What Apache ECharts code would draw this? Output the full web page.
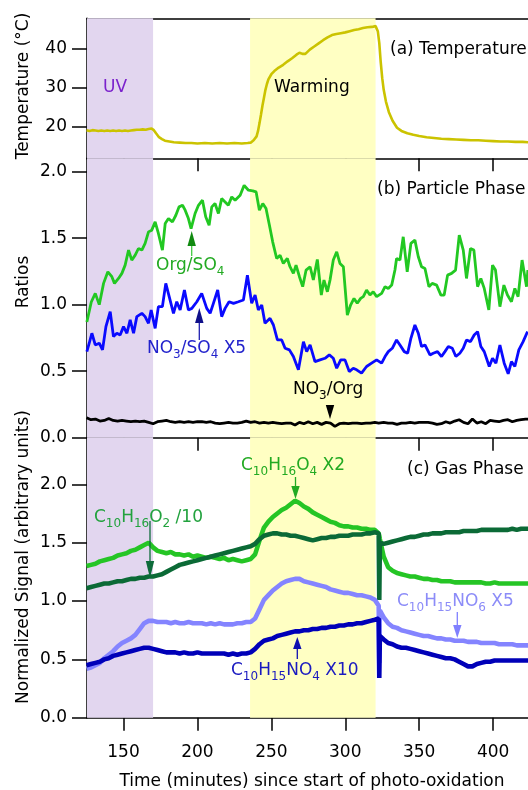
<!DOCTYPE html>
<html><head><meta charset="utf-8">
<script src="https://cdn.jsdelivr.net/npm/echarts@6/dist/echarts.min.js"></script>
<style>html,body{margin:0;padding:0;background:#fff}#c{width:528px;height:790px}</style>
</head><body><div id="c"></div>
<script>
// ---------- data ----------
const timeTicks = [150, 200, 250, 300, 350, 400];
const tempTicks = [20, 30, 40];
const tempMinorTicks = [15, 25, 35, 45];
const ratioTicks = [0, 0.5, 1, 1.5, 2];
const gasTicks = [0, 0.5, 1, 1.5, 2];
const uvPeriod = [125.3, 170];
const warmPeriod = [235.6, 320.5];

const tempTime = [125,127,129,131,133,135,137,139,141,143,145,147,149,151,153,155,157,159,161,163,165,167,169,170.5,172,174,176,178,181,184,188,192,196,200,205,210,215,220,225,230,234,236,238,240,241,242,243,244,245,246,247,248,250,252,255,258,261,264,267,269,271,273,276,279,282,285,288,291,294,297,300,303,306,309,312,315,318,320.5,322,323,324,325,326,327.5,329.5,332,335,338,342,346,350,355,360,365,370,375,380,385,390,395,400,405,410,415,420,424];
const tempVals = [19.2,19.0,19.2,19.1,19.0,19.1,19.0,19.1,19.0,19.1,19.0,19.1,19.0,19.1,19.0,19.1,19.2,19.3,19.3,19.4,19.3,19.5,19.6,19.2,18.4,17.4,16.9,16.5,16.3,16.1,16.0,15.9,15.9,15.8,15.9,15.8,15.9,15.8,15.9,15.8,15.9,16.0,16.6,17.6,19.0,21.0,23.2,25.5,27.5,29.5,31.0,32.2,33.5,34.3,35.2,35.9,36.8,37.6,38.5,39.0,38.7,38.7,39.8,40.6,41.4,42.2,42.9,43.5,43.8,44.0,44.2,44.5,44.8,45.0,45.3,45.5,45.6,45.8,44.5,41.5,36.5,32.5,29.5,26.5,23.8,21.6,19.8,19.0,18.4,18.0,17.7,17.4,17.2,17.0,16.9,16.8,16.7,16.6,16.6,16.5,16.4,16.3,16.3,16.2,16.2,16.1];

const orgTime = [125.2,128.2,130.9,133.6,136.5,139.4,142.1,143.9,146.6,148.9,151.1,153.4,155.6,157.9,160.1,162.4,164.6,166.9,169.1,171.4,173.6,176.3,178.2,180.4,183.1,185.4,187.6,189.9,191.7,193.9,195.7,198.4,200.7,203.4,205.6,207.9,209.7,211.9,214.2,216.4,218.7,220.9,223.2,225.5,228.9,231.6,234.5,237.4,239.7,241.9,244.2,246.4,248.7,250.9,253.6,255.9,258.1,260.8,262.6,264.9,266.7,269,271.2,273.5,276.2,278.4,281.1,283.8,285.6,287.9,289.7,291.9,294.2,296.4,298.7,301.4,303.6,305.9,308.1,310.4,312.2,314.4,316.7,318.9,321.2,322.4,324.6,326.9,329.1,331.4,333.6,334.7,337,339.2,341.9,344.4,347.1,349.4,351.6,353.9,356.6,358.8,361.8,364.7,366.9,369.2,371.9,374.6,377.1,379.8,382,384.7,387,389.5,391.7,394,397.1,399.6,401.6,404.6,407.3,409.7,412.4,414.7,416.9,419.6,422.6,423.5];
const orgVals = [0.87,1.02,1.085,1.0,1.16,1.247,1.21,1.16,1.197,1.235,1.297,1.41,1.335,1.372,1.422,1.41,1.46,1.547,1.56,1.622,1.535,1.41,1.61,1.647,1.622,1.672,1.735,1.747,1.71,1.647,1.572,1.685,1.747,1.785,1.66,1.597,1.735,1.76,1.685,1.797,1.772,1.747,1.81,1.785,1.822,1.897,1.86,1.855,1.847,1.71,1.76,1.722,1.597,1.472,1.347,1.372,1.31,1.347,1.285,1.235,1.297,1.21,1.135,1.26,1.285,1.185,1.34,1.072,1.185,1.097,1.185,1.335,1.397,1.31,1.285,0.922,0.997,1.047,1.01,1.047,1.06,1.11,1.072,1.097,1.06,1.047,1.085,1.135,1.122,1.147,1.26,1.347,1.335,1.51,1.247,1.46,1.485,1.36,1.285,1.272,1.135,1.16,1.147,1.072,1.072,1.222,1.235,1.26,1.522,1.41,1.197,1.422,1.41,1.135,1.197,1.122,0.96,1.297,1.26,0.985,1.147,1.072,1.022,1.122,1.06,1.335,1.135,1.26];

const no3Time = [125.2,126.8,128.6,130.9,133.6,135.8,138.1,141,143.2,145.5,147.7,150,152.3,154.5,156.8,159,162.4,164.6,166.9,168.7,171.4,173.6,176.3,178.6,180.9,183.8,186,188.3,191.2,193.9,196.2,199.6,202.9,206.3,208.6,210.8,213.7,216.4,218.7,221.4,224.4,227.7,231.1,233.8,236.7,239,241.2,243.5,245.7,249.1,251.4,254.1,257,259.3,262.2,264.9,268.3,271.7,273.9,276.2,279.5,282.9,286.3,289.2,291.9,294.2,296.9,299.8,302.7,305.4,307.7,311,314.4,317.8,321.2,324.6,326.9,329.1,331.8,334.7,337,339.9,342.2,344.4,347.1,349.4,351.6,353.9,357.3,359.5,362.4,365.1,367.4,369.7,372.4,374.8,377.5,379.8,382,384.7,387.2,389.5,391.7,394,397.4,399.6,401.9,404.6,407.5,410.2,412.4,414.7,417.4,420.3,423.3];
const no3Vals = [0.647,0.71,0.785,0.697,0.71,0.66,0.835,0.947,0.76,0.785,0.772,0.835,0.785,0.885,0.785,0.91,0.935,0.91,0.86,0.96,0.822,0.985,0.985,1.16,1.06,0.935,1.022,0.96,1.11,0.96,0.972,1.022,1.085,0.972,0.935,1.01,1.11,0.91,0.972,1.022,1.01,1.022,1.035,1.222,1.01,1.072,0.96,0.997,0.86,0.897,0.847,0.735,0.735,0.672,0.66,0.61,0.51,0.722,0.647,0.697,0.572,0.585,0.597,0.622,0.597,0.522,0.585,0.585,0.497,0.522,0.51,0.485,0.535,0.56,0.585,0.56,0.61,0.647,0.672,0.735,0.697,0.647,0.635,0.747,0.847,0.785,0.685,0.697,0.622,0.635,0.647,0.61,0.647,0.685,0.672,0.61,0.635,0.672,0.735,0.722,0.772,0.797,0.685,0.647,0.535,0.597,0.56,0.697,0.56,0.48,0.572,0.535,0.66,0.722,0.797];

const timeGrid = [125,128,131,134,137,140,143,146,149,152,155,158,161,164,167,170,173,176,179,182,185,188,191,194,197,200,203,206,209,212,215,218,221,224,227,230,233,236,239,242,245,248,251,254,257,260,263,266,269,272,275,278,281,284,287,290,293,296,299,302,305,308,311,314,317,320,322.6,323,323.4,326,329,332,335,338,341,344,347,350,353,356,359,362,365,368,371,374,377,380,383,386,389,392,395,398,401,404,407,410,413,416,419,422,424];
const no3OrgVals = [0.15,0.135,0.14,0.125,0.13,0.145,0.13,0.125,0.13,0.125,0.12,0.125,0.12,0.125,0.115,0.105,0.12,0.125,0.13,0.12,0.115,0.12,0.115,0.12,0.115,0.12,0.12,0.115,0.12,0.11,0.105,0.11,0.115,0.11,0.11,0.115,0.125,0.115,0.12,0.11,0.115,0.11,0.115,0.11,0.105,0.11,0.11,0.095,0.115,0.105,0.12,0.105,0.115,0.10,0.115,0.11,0.085,0.105,0.11,0.105,0.11,0.11,0.105,0.11,0.11,0.115,0.11,0.11,0.112,0.115,0.11,0.11,0.10,0.11,0.11,0.115,0.11,0.115,0.115,0.115,0.11,0.10,0.105,0.12,0.11,0.125,0.135,0.115,0.105,0.14,0.11,0.12,0.105,0.13,0.125,0.12,0.13,0.135,0.12,0.13,0.135,0.14,0.14];
const c10h16o4Vals = [1.30,1.31,1.32,1.34,1.35,1.36,1.37,1.39,1.40,1.41,1.43,1.44,1.46,1.48,1.50,1.46,1.43,1.42,1.41,1.42,1.40,1.40,1.39,1.40,1.38,1.39,1.38,1.37,1.38,1.37,1.36,1.37,1.35,1.36,1.35,1.34,1.35,1.36,1.40,1.52,1.63,1.68,1.72,1.75,1.78,1.80,1.83,1.86,1.84,1.81,1.79,1.76,1.74,1.72,1.70,1.68,1.67,1.65,1.64,1.64,1.63,1.63,1.62,1.62,1.61,1.61,1.58,1.56,1.53,1.38,1.29,1.26,1.24,1.23,1.22,1.21,1.21,1.20,1.19,1.19,1.18,1.18,1.17,1.17,1.17,1.16,1.16,1.16,1.16,1.16,1.16,1.16,1.15,1.15,1.16,1.15,1.15,1.15,1.15,1.15,1.15,1.15,1.15];
const c10h16o2Vals = [1.11,1.12,1.13,1.14,1.15,1.15,1.16,1.17,1.17,1.18,1.19,1.19,1.20,1.20,1.21,1.21,1.22,1.23,1.25,1.27,1.29,1.31,1.32,1.33,1.34,1.35,1.36,1.37,1.38,1.39,1.40,1.41,1.42,1.43,1.44,1.45,1.46,1.47,1.49,1.53,1.56,1.57,1.58,1.58,1.57,1.57,1.56,1.56,1.55,1.54,1.53,1.52,1.53,1.54,1.54,1.55,1.55,1.56,1.56,1.56,1.57,1.57,1.57,1.58,1.58,1.59,1.58,1.01,1.50,1.49,1.50,1.51,1.52,1.53,1.54,1.55,1.55,1.56,1.57,1.57,1.58,1.58,1.58,1.59,1.59,1.59,1.59,1.60,1.60,1.60,1.60,1.61,1.61,1.61,1.61,1.61,1.61,1.61,1.62,1.61,1.62,1.62,1.62];
const c10h15no6Vals = [0.42,0.43,0.45,0.47,0.51,0.54,0.57,0.61,0.64,0.66,0.68,0.71,0.76,0.81,0.83,0.83,0.82,0.82,0.82,0.81,0.82,0.81,0.81,0.82,0.81,0.81,0.81,0.80,0.81,0.80,0.81,0.80,0.80,0.80,0.81,0.81,0.82,0.82,0.85,0.93,1.01,1.05,1.09,1.12,1.15,1.17,1.18,1.19,1.19,1.17,1.16,1.15,1.14,1.13,1.12,1.10,1.09,1.08,1.07,1.07,1.06,1.05,1.05,1.04,1.03,1.01,0.96,0.47,0.92,0.86,0.81,0.78,0.77,0.75,0.74,0.73,0.72,0.71,0.70,0.70,0.69,0.68,0.68,0.67,0.67,0.66,0.66,0.66,0.65,0.65,0.65,0.64,0.64,0.64,0.64,0.63,0.63,0.63,0.63,0.62,0.62,0.62,0.62];
const c10h15no4Vals = [0.45,0.46,0.47,0.48,0.50,0.51,0.53,0.54,0.55,0.56,0.57,0.58,0.59,0.60,0.60,0.59,0.58,0.57,0.56,0.56,0.56,0.55,0.56,0.55,0.55,0.56,0.55,0.55,0.55,0.55,0.55,0.55,0.54,0.55,0.54,0.55,0.55,0.56,0.59,0.63,0.66,0.67,0.68,0.70,0.71,0.72,0.73,0.74,0.74,0.75,0.75,0.76,0.76,0.77,0.77,0.78,0.78,0.79,0.79,0.80,0.80,0.81,0.81,0.82,0.83,0.84,0.85,0.34,0.70,0.67,0.64,0.63,0.61,0.60,0.60,0.59,0.58,0.57,0.56,0.55,0.54,0.53,0.52,0.51,0.51,0.50,0.48,0.46,0.44,0.44,0.46,0.47,0.48,0.48,0.49,0.49,0.49,0.49,0.49,0.49,0.49,0.49,0.49];

// ---------- chart ----------
const FONT = 'DejaVu Sans';
const BLACK = '#000';
const X_MIN = 125.3, X_MAX = 423.6;
const zip = (t, v) => t.map((x, i) => [x, v[i]]);
const axLine = {show: true, onZero: false, lineStyle: {color: BLACK, width: 1.5}};
const tickStyle = {color: BLACK, width: 1.5};
const labelStyle = {fontSize: 17, fontFamily: FONT, color: BLACK};

function xAxis(grid, extra) {
  return Object.assign({
    type: 'value', gridIndex: grid, min: X_MIN, max: X_MAX, position: 'bottom',
    axisLine: axLine,
    axisTick: {show: true, inside: false, length: 13, customValues: timeTicks, lineStyle: tickStyle},
    axisLabel: {show: false},
    splitLine: {show: false}
  }, extra || {});
}
function yAxis(grid, min, max, ticks, fmt) {
  return {
    type: 'value', gridIndex: grid, min: min, max: max,
    axisLine: axLine,
    axisTick: {show: true, inside: false, length: 15, customValues: ticks, lineStyle: tickStyle},
    axisLabel: Object.assign({show: true, customValues: ticks, margin: 20, formatter: fmt}, labelStyle),
    splitLine: {show: false}
  };
}
function shade(xi, yi) {
  return {
    type: 'line', xAxisIndex: xi, yAxisIndex: yi, data: [], silent: true, z: 0,
    markArea: {
      silent: true,
      data: [
        [{xAxis: uvPeriod[0], itemStyle: {color: '#e2d6ef'}}, {xAxis: uvPeriod[1]}],
        [{xAxis: warmPeriod[0], itemStyle: {color: '#ffffc3'}}, {xAxis: warmPeriod[1]}]
      ]
    }
  };
}
function line(xi, yi, t, v, color, w) {
  return {
    type: 'line', xAxisIndex: xi, yAxisIndex: yi, data: zip(t, v),
    showSymbol: false, symbol: 'none', silent: true, z: 3,
    lineStyle: {color: color, width: w}
  };
}

const chart = echarts.init(document.getElementById('c'), null, {renderer: 'canvas'});

const richFor = (color) => ({
  n: {fontSize: 17, fontFamily: FONT, fill: color, color: color, lineHeight: 24, verticalAlign: 'middle'},
  s: {fontSize: 12, fontFamily: FONT, fill: color, color: color, lineHeight: 12, verticalAlign: 'bottom'}
});
function txt(x, y, text, color, opts) {
  return Object.assign({
    type: 'text', x: x, y: y, z: 100, silent: true,
    style: {text: text, rich: richFor(color), fontSize: 17, fontFamily: FONT, fill: color,
            align: 'left', verticalAlign: 'middle', textAlign: 'left', textVerticalAlign: 'middle'}
  }, opts || {});
}
function vtxt(x, y, text) {
  return {
    type: 'text', x: x, y: y, rotation: Math.PI / 2, z: 100, silent: true,
    style: {text: text, fontSize: 17, fontFamily: FONT, fill: BLACK,
            align: 'center', verticalAlign: 'middle', textAlign: 'center', textVerticalAlign: 'middle'}
  };
}
function arrow(x, tipY, baseY, tailY, head, stem) {
  const out = [];
  if (tailY !== baseY) out.push({type: 'line', z: 100, silent: true,
    shape: {x1: x, y1: baseY, x2: x, y2: tailY}, style: {stroke: stem, lineWidth: 1.3}});
  out.push({type: 'polygon', z: 101, silent: true,
    shape: {points: [[x, tipY], [x - 4.2, baseY], [x + 4.2, baseY]]}, style: {fill: head}});
  return out;
}

const graphics = [
  vtxt(24, 86, 'Temperature (°C)'),
  vtxt(24, 282, 'Ratios'),
  vtxt(24, 557, 'Normalized Signal (arbitrary units)'),
  {type: 'text', x: 312, y: 782, z: 100, silent: true,
   style: {text: 'Time (minutes) since start of photo-oxidation', fontSize: 17, fontFamily: FONT, fill: BLACK,
           align: 'center', verticalAlign: 'middle', textAlign: 'center', textVerticalAlign: 'middle'}},
  txt(103, 88, '{n|UV}', '#7b22cc'),
  txt(274, 88, '{n|Warming}', BLACK),
  txt(390, 50, '{n|(a) Temperature}', BLACK),
  txt(377, 190, '{n|(b) Particle Phase}', BLACK),
  txt(407, 470, '{n|(c) Gas Phase}', BLACK),
  txt(293, 390, '{n|NO}{s|3}{n|/Org}', BLACK),
  txt(156, 266, '{n|Org/SO}{s|4}', '#22aa22'),
  txt(147, 349, '{n|NO}{s|3}{n|/SO}{s|4}{n| X5}', '#2222cc'),
  txt(94, 518, '{n|C}{s|10}{n|H}{s|16}{n|O}{s|2}{n| /10}', '#22a23e'),
  txt(241, 466, '{n|C}{s|10}{n|H}{s|16}{n|O}{s|4}{n| X2}', '#22aa22'),
  txt(397, 602, '{n|C}{s|10}{n|H}{s|15}{n|NO}{s|6}{n| X5}', '#8c8cf8'),
  txt(231, 671, '{n|C}{s|10}{n|H}{s|15}{n|NO}{s|4}{n| X10}', '#1a1ac0'),
  ...arrow(191.7, 231, 246, 256, '#108a10', '#44cc44'),
  ...arrow(199.3, 308, 323, 340, '#10108a', '#2020b0'),
  ...arrow(330, 419, 405, 405, BLACK, BLACK),
  ...arrow(150, 578, 561, 521, '#0d6b3a', '#0d6b3a'),
  ...arrow(295.5, 499, 486, 477, '#22aa22', '#22aa22'),
  ...arrow(457.3, 638, 625, 612, '#8080ff', '#8080ff'),
  ...arrow(297.3, 637, 649, 659, '#1010b0', '#1010b0')
];

const option = {
  animation: false,
  backgroundColor: '#fff',
  grid: [
    {left: 87, right: 0, top: 18.3, height: 140},
    {left: 87, right: 0, top: 158.3, height: 279.4},
    {left: 87, right: 0, top: 437.7, height: 280}
  ],
  xAxis: [
    xAxis(0),
    xAxis(0, {position: 'top', axisTick: {show: false}}),
    xAxis(1),
    xAxis(2, {axisLabel: Object.assign({show: true, customValues: timeTicks, margin: 26}, labelStyle)})
  ],
  yAxis: [
    yAxis(0, 12, 47.8, tempTicks, v => String(v)),
    {type: 'value', gridIndex: 0, min: 12, max: 47.8, axisLine: {show: false},
     axisTick: {show: true, length: 8, customValues: tempMinorTicks, lineStyle: tickStyle},
     axisLabel: {show: false}, splitLine: {show: false}},
    yAxis(1, 0, 2.1, ratioTicks, v => v.toFixed(1)),
    yAxis(2, 0, 2.4, gasTicks, v => v.toFixed(1))
  ],
  series: [
    shade(0, 0), shade(2, 2), shade(3, 3),
    line(0, 0, tempTime, tempVals, '#cbc300', 2.6),
    line(2, 2, orgTime, orgVals, '#22c822', 2.8),
    line(2, 2, no3Time, no3Vals, '#0a0aff', 2.8),
    line(2, 2, timeGrid, no3OrgVals, BLACK, 2.8),
    line(3, 3, timeGrid, c10h16o4Vals, '#25c525', 4.6),
    line(3, 3, timeGrid, c10h16o2Vals, '#0b6a36', 4.6),
    line(3, 3, timeGrid, c10h15no6Vals, '#8484ff', 4.6),
    line(3, 3, timeGrid, c10h15no4Vals, '#0000b8', 4.6)
  ],
  graphic: graphics
};
chart.setOption(option);
</script></body></html>
